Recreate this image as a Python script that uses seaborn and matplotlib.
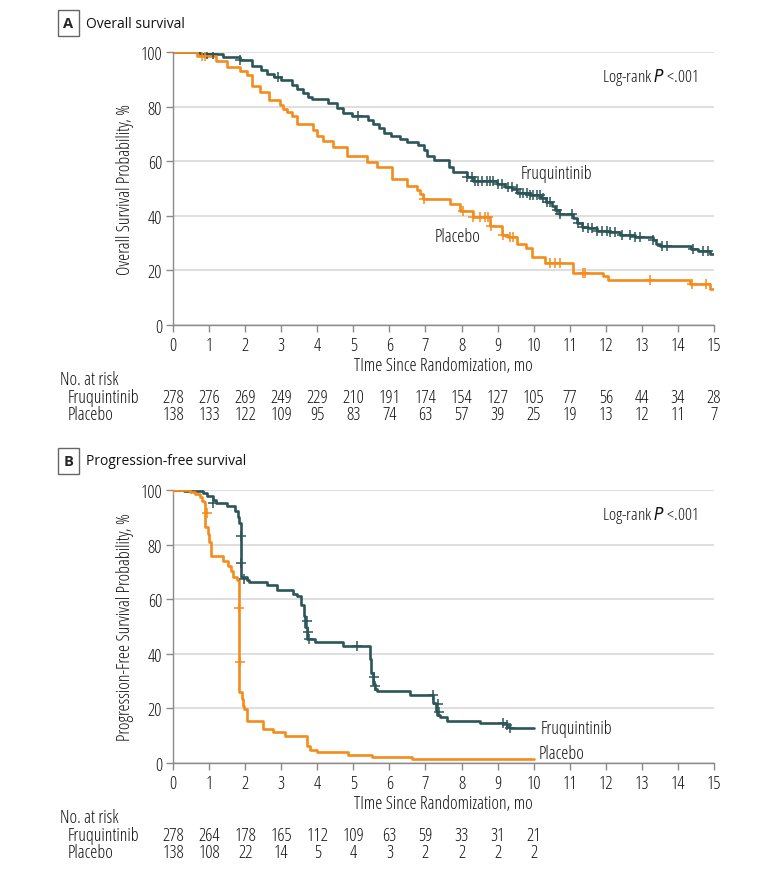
import matplotlib
matplotlib.use("Agg")
import matplotlib.pyplot as plt
import numpy as np
import seaborn as sns

# ---- data --------------------------------------------------------------
months = list(range(16))

# Overall survival, step points (time in months, survival %)
os_fruq_t = [0, 0.75, 1.4, 1.85, 2.2, 2.45, 2.6, 2.8, 3.0, 3.3, 3.45, 3.6, 3.75, 3.85,
             4.3, 4.55, 4.7, 4.95, 5.4, 5.55, 5.7, 5.85, 6.05, 6.3, 6.5, 6.8, 6.95,
             7.05, 7.25, 7.65, 7.75, 8.14, 8.33, 8.97, 9.2, 9.4, 9.55, 9.9, 10.2,
             10.35, 10.5, 10.6, 10.7, 11.1, 11.2, 11.35, 11.5, 11.75, 12.1, 12.4,
             12.8, 13.3, 13.4, 13.5, 14.35, 14.55, 14.9, 15.0]
os_fruq_s = [100, 99.2, 98.0, 97.2, 95.0, 93.5, 92.0, 91.0, 89.8, 88.0, 86.5, 85.0, 83.5,
             82.8, 81.5, 79.5, 77.5, 76.5, 75.0, 73.5, 72.0, 70.5, 69.3, 68.0, 67.0,
             66.0, 64.0, 62.0, 60.5, 58.0, 56.2, 54.1, 52.8, 51.5, 50.5, 49.8, 48.5,
             47.8, 46.5, 45.0, 43.5, 42.0, 40.5, 39.2, 37.5, 36.0, 35.4, 34.6, 34.0,
             33.0, 32.2, 31.0, 29.5, 29.0, 28.0, 27.2, 26.0, 26.0]
os_plac_t = [0, 0.66, 1.2, 1.5, 1.85, 2.05, 2.2, 2.4, 2.65, 2.97, 3.05, 3.15, 3.3, 3.43,
             3.89, 4.0, 4.17, 4.44, 4.82, 5.37, 5.65, 6.06, 6.48, 6.76, 6.85, 6.94,
             7.67, 7.96, 8.33, 8.79, 9.11, 9.3, 9.53, 9.8, 9.94, 10.31, 11.1, 11.93,
             12.07, 14.33, 14.88, 15.0]
os_plac_s = [100, 98.5, 96.7, 94.5, 93.0, 91.5, 87.5, 85.3, 82.3, 80.5, 79.1, 78.0, 76.6,
             73.6, 71.5, 69.2, 67.5, 65.1, 62.0, 59.7, 57.8, 53.5, 51.0, 49.5, 48.0,
             46.2, 44.3, 41.9, 39.6, 36.4, 33.0, 32.1, 29.7, 28.1, 24.8, 22.7, 19.0,
             18.0, 16.5, 15.0, 13.2, 13.2]
os_fruq_cens = [0.95, 1.12, 1.86, 2.92, 5.13, 8.14, 8.28, 8.37, 8.46, 8.56, 8.70, 8.79,
                8.88, 9.02, 9.11, 9.30, 9.39, 9.53, 9.62, 9.71, 9.81, 9.90, 9.99, 10.08,
                10.17, 10.27, 10.36, 10.45, 10.64, 10.73, 11.05, 11.24, 11.38, 11.52,
                11.61, 11.75, 11.89, 12.02, 12.12, 12.25, 12.44, 12.67, 12.81, 12.95,
                13.32, 13.55, 13.69, 14.43, 14.70, 14.84]
os_plac_cens = [0.8, 0.89, 6.95, 8.05, 8.33, 8.51, 8.65, 8.74, 8.83, 9.16, 9.34, 9.43,
                10.45, 10.59, 10.73, 11.38, 11.42, 13.22, 14.38, 14.79]

# Progression-free survival
pfs_fruq_t = [0, 0.3, 0.84, 0.95, 1.1, 1.2, 1.5, 1.72, 1.8, 1.84, 1.88, 2.04, 2.1, 2.6,
              2.87, 3.34, 3.45, 3.55, 3.62, 3.67, 3.71, 3.94, 4.72, 5.46, 5.5, 5.54,
              5.6, 5.65, 6.57, 7.22, 7.28, 7.33, 7.4, 7.59, 8.52, 9.26, 9.35, 10.0]
pfs_fruq_s = [100, 99.6, 98.9, 97.8, 96.5, 95.2, 94.0, 92.4, 90.0, 88.0, 68.1, 67.0, 66.4,
              65.2, 63.4, 62.0, 61.0, 58.0, 54.0, 50.0, 45.4, 44.2, 43.0, 38.0, 33.0,
              29.0, 27.1, 26.5, 24.9, 22.0, 19.5, 17.5, 16.8, 15.5, 14.6, 13.2, 12.7,
              12.7]
pfs_plac_t = [0, 0.47, 0.6, 0.75, 0.8, 0.86, 0.9, 0.97, 1.0, 1.06, 1.39, 1.53, 1.6, 1.67,
              1.78, 1.84, 1.9, 1.93, 1.97, 2.04, 2.5, 2.78, 3.1, 3.71, 3.8, 3.98, 4.86,
              5.51, 6.62, 10.0]
pfs_plac_s = [100, 99.3, 98.5, 97.5, 96.0, 95.5, 86.3, 84.0, 80.8, 75.7, 74.0, 72.3, 70.4,
              68.0, 67.0, 25.9, 23.4, 21.0, 19.8, 15.5, 12.5, 11.2, 10.0, 6.3, 4.9, 3.9,
              2.9, 2.3, 1.5, 1.5]
pfs_fruq_cens_t = [1.12, 1.89, 1.89, 1.96, 3.71, 3.75, 3.78, 5.09, 5.57, 5.6, 7.2, 7.36,
                   7.38, 9.16, 9.26, 9.33]
pfs_fruq_cens_s = [95.2, 83.2, 73.3, 67.4, 52.1, 48.1, 45.4, 43.0, 31.4, 28.1, 24.9, 21.6,
                   18.5, 14.6, 14.0, 12.9]
pfs_plac_cens_t = [0.0, 0.93, 1.84, 1.86]
pfs_plac_cens_s = [100, 91.5, 56.7, 37.1]

os_risk_fruq = [278, 276, 269, 249, 229, 210, 191, 174, 154, 127, 105, 77, 56, 44, 34, 28]
os_risk_plac = [138, 133, 122, 109, 95, 83, 74, 63, 57, 39, 25, 19, 13, 12, 11, 7]
pfs_risk_fruq = [278, 264, 178, 165, 112, 109, 63, 59, 33, 31, 21]
pfs_risk_plac = [138, 108, 22, 14, 5, 4, 3, 2, 2, 2, 2]

# ---- style ---------------------------------------------------------------
TEAL = "#2c5557"
ORANGE = "#f48c1c"
GRID = "#d9d9d9"
SPINE = "#8a8a8a"
INK = "#111111"

sns.set_theme(style="white")
plt.rcParams["font.family"] = ["Open Sans", "DejaVu Sans"]
plt.rcParams["font.stretch"] = "condensed"
FS = 13

W, H = 780, 870
fig = plt.figure(figsize=(W / 100, H / 100), dpi=100)


def px_ax(left, top, right, bottom):
    return fig.add_axes([left / W, 1 - bottom / H, (right - left) / W, (bottom - top) / H])


def step_value(ts, ss, tc):
    idx = np.searchsorted(ts, tc, side="right") - 1
    return [ss[i] for i in idx]


def draw_panel(ax, curves, cens, ylabel):
    for (t, s), color in curves:
        sns.lineplot(x=t, y=s, drawstyle="steps-post", estimator=None, sort=False,
                     color=color, linewidth=1.9, ax=ax)
    for (tc, sc), color in cens:
        sns.scatterplot(x=tc, y=sc, marker="+", s=55, linewidth=1.1, color=color,
                        ax=ax, zorder=3)
    ax.set_xlim(0, 15)
    ax.set_ylim(0, 100)
    ax.set_xticks(months)
    ax.set_yticks([0, 20, 40, 60, 80, 100])
    ax.yaxis.grid(True, color=GRID, linewidth=1.2)
    ax.set_axisbelow(True)
    for side in ("top", "right"):
        ax.spines[side].set_visible(False)
    for side in ("left", "bottom"):
        ax.spines[side].set_color(SPINE)
        ax.spines[side].set_linewidth(1.0)
    ax.tick_params(axis="both", which="both", direction="out", length=5, width=1,
                   color=SPINE, labelsize=FS, labelcolor=INK, pad=3, left=True,
                   bottom=True)
    ax.set_xlabel("TIme Since Randomization, mo", fontsize=FS, color=INK)
    ax.xaxis.set_label_coords(0.5, -0.112)
    ax.set_ylabel(ylabel, fontsize=FS, color=INK)
    ax.yaxis.set_label_coords(-0.072, 0.5)
    ax.text(0.97, 0.91, r"Log-rank $\it{P}$ <.001", transform=ax.transAxes, ha="right",
            va="center", fontsize=FS - 0.5, color=INK)


def risk_table(ax, fruq, plac, y_head, y_f, y_p, bottom_px):
    def ay(py):
        return (bottom_px - py) / 273.0
    tr = ax.get_xaxis_transform()
    fig.text(60 / W, 1 - y_head / H, "No. at risk", fontsize=FS, va="center", color=INK)
    fig.text(68 / W, 1 - y_f / H, "Fruquintinib", fontsize=FS, va="center", color=INK)
    fig.text(68 / W, 1 - y_p / H, "Placebo", fontsize=FS, va="center", color=INK)
    for i, (a, b) in enumerate(zip(fruq, plac)):
        ax.text(months[i], ay(y_f), str(a), transform=tr, ha="center", va="center",
                fontsize=FS, clip_on=False, color=INK)
        ax.text(months[i], ay(y_p), str(b), transform=tr, ha="center", va="center",
                fontsize=FS, clip_on=False, color=INK)


def panel_header(letter, title, y):
    fig.text(68.5 / W, 1 - y / H, letter, fontsize=10.5, fontweight="bold", ha="center",
             va="center", fontstretch="normal",
             bbox=dict(boxstyle="square,pad=0.4", facecolor="white", edgecolor="#666666",
                       linewidth=1.0))
    fig.text(86 / W, 1 - y / H, title, fontsize=10, ha="left", va="center",
             fontstretch="normal", color=INK)


# ---- panel A -------------------------------------------------------------
axA = px_ax(173, 53, 714, 326)
draw_panel(
    axA,
    [((os_fruq_t, os_fruq_s), TEAL), ((os_plac_t, os_plac_s), ORANGE)],
    [((os_fruq_cens, step_value(os_fruq_t, os_fruq_s, os_fruq_cens)), TEAL),
     ((os_plac_cens, step_value(os_plac_t, os_plac_s, os_plac_cens)), ORANGE)],
    "Overall Survival Probability, %",
)
axA.text(9.65, 55.7, "Fruquintinib", fontsize=FS, ha="left", va="center", color=INK)
axA.text(7.26, 32.6, "Placebo", fontsize=FS, ha="left", va="center", color=INK)
panel_header("A", "Overall survival", 24)
risk_table(axA, os_risk_fruq, os_risk_plac, 380, 398, 415, 326)

# ---- panel B -------------------------------------------------------------
axB = px_ax(173, 491, 714, 764)
draw_panel(
    axB,
    [((pfs_fruq_t, pfs_fruq_s), TEAL), ((pfs_plac_t, pfs_plac_s), ORANGE)],
    [((pfs_fruq_cens_t, pfs_fruq_cens_s), TEAL),
     ((pfs_plac_cens_t, pfs_plac_cens_s), ORANGE)],
    "Progression-Free Survival Probability, %",
)
axB.text(10.2, 12.7, "Fruquintinib", fontsize=FS, ha="left", va="center", color=INK)
axB.text(10.15, 3.6, "Placebo", fontsize=FS, ha="left", va="center", color=INK)
panel_header("B", "Progression-free survival", 462)
risk_table(axB, pfs_risk_fruq, pfs_risk_plac, 818, 836, 853, 764)

fig.savefig("out.png", dpi=100, facecolor="white")
